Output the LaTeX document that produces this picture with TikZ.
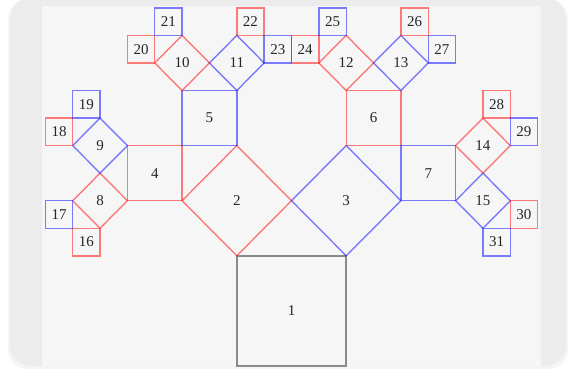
\documentclass[tikz,border=0pt]{standalone}
\usepackage{fontspec}
\setmainfont{Liberation Serif}
\definecolor{cardgray}{HTML}{ECECEC}
\definecolor{panelgray}{HTML}{F6F6F6}
\definecolor{rd}{HTML}{FF0000}
\definecolor{bl}{HTML}{0000FF}
\definecolor{txt}{HTML}{262626}
\definecolor{trunk}{HTML}{8A8A8A}
\tikzset{
  redsq/.style={draw=rd, draw opacity=0.5, line width=1.4pt, line join=miter},
  bluesq/.style={draw=bl, draw opacity=0.5, line width=1.4pt, line join=miter},
  graysq/.style={draw=trunk, line width=1.8pt},
  lbl/.style={text=txt, font=\fontsize{15}{15}\selectfont, inner sep=0pt}
}
% axis-aligned square: style, x0, y0, size, label
\newcommand{\abox}[5]{%
  \draw[#1] (#2,#3) rectangle ++(#4,#4);
  \node[lbl] (n#5) at ({#2+#4/2},{#3+#4/2}) {#5};}
% diamond: style, cx, cy, half-diagonal, label
\newcommand{\adiam}[5]{%
  \draw[#1] ({#2-#4},#3) -- (#2,{#3+#4}) -- ({#2+#4},#3) -- (#2,{#3-#4}) -- cycle;
  \node[lbl] (n#5) at (#2,#3) {#5};}
\begin{document}
\begin{tikzpicture}[x=1pt,y=1pt]
\useasboundingbox (0,0) rectangle (569,370);
\fill[white] (0,0) rectangle (569,370);
\fill[black!4, rounded corners=20pt] (8,1) rectangle (568,371);
\fill[cardgray, rounded corners=20pt] (10,4) rectangle (566,372);
\fill[panelgray] (42,4) rectangle (541,364);
\begin{scope}[shift={(291.5pt,4pt)}, x=27.35pt, y=27.55pt]
  \abox{graysq}{-2}{0}{4}{1}
  \adiam{redsq}{-2}{6}{2}{2}
  \adiam{bluesq}{2}{6}{2}{3}
  \abox{redsq}{-6}{6}{2}{4}
  \abox{bluesq}{-4}{8}{2}{5}
  \abox{redsq}{2}{8}{2}{6}
  \abox{bluesq}{4}{6}{2}{7}
  \adiam{redsq}{-7}{6}{1}{8}
  \adiam{bluesq}{-7}{8}{1}{9}
  \adiam{redsq}{-4}{11}{1}{10}
  \adiam{bluesq}{-2}{11}{1}{11}
  \adiam{redsq}{2}{11}{1}{12}
  \adiam{bluesq}{4}{11}{1}{13}
  \adiam{redsq}{7}{8}{1}{14}
  \adiam{bluesq}{7}{6}{1}{15}
  \abox{redsq}{-8}{4}{1}{16}
  \abox{bluesq}{-9}{5}{1}{17}
  \abox{redsq}{-9}{8}{1}{18}
  \abox{bluesq}{-8}{9}{1}{19}
  \abox{redsq}{-6}{11}{1}{20}
  \abox{bluesq}{-5}{12}{1}{21}
  \abox{redsq}{-2}{12}{1}{22}
  \abox{bluesq}{-1}{11}{1}{23}
  \abox{redsq}{0}{11}{1}{24}
  \abox{bluesq}{1}{12}{1}{25}
  \abox{redsq}{4}{12}{1}{26}
  \abox{bluesq}{5}{11}{1}{27}
  \abox{redsq}{7}{9}{1}{28}
  \abox{bluesq}{8}{8}{1}{29}
  \abox{redsq}{8}{5}{1}{30}
  \abox{bluesq}{7}{4}{1}{31}
\end{scope}
\end{tikzpicture}
\end{document}
